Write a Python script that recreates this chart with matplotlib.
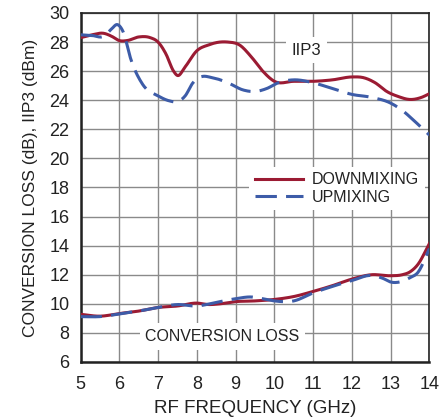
import numpy as np
import matplotlib
matplotlib.use("Agg")
import matplotlib.pyplot as plt

FONT = ['Liberation Sans Narrow', 'Liberation Sans', 'DejaVu Sans']
plt.rcParams['font.family'] = FONT

RED = '#9B1B33'
BLUE = '#3D5CA8'
TXT = '#222222'

# IIP3 downmixing
iip3_dn_f = [5.0, 5.3, 5.6, 5.8, 6.0, 6.2, 6.5, 6.8, 7.0, 7.2, 7.4, 7.5, 7.7, 8.0, 8.3, 8.6, 8.8, 9.1, 9.4, 9.7, 10.0, 10.5, 11.0, 11.5, 12.0, 12.3, 12.6, 12.9, 13.2, 13.5, 13.8, 14.0]
iip3_dn_v = [28.3, 28.5, 28.6, 28.4, 28.1, 28.1, 28.35, 28.3, 28.0, 27.2, 26.0, 25.7, 26.3, 27.4, 27.8, 28.0, 28.0, 27.8, 27.0, 26.0, 25.3, 25.3, 25.3, 25.4, 25.6, 25.55, 25.2, 24.6, 24.25, 24.05, 24.2, 24.45]

# IIP3 upmixing
iip3_up_f = [5.0, 5.3, 5.6, 5.8, 5.95, 6.1, 6.3, 6.6, 7.0, 7.3, 7.5, 7.7, 7.9, 8.1, 8.4, 8.8, 9.2, 9.5, 9.8, 10.1, 10.5, 11.0, 11.5, 12.0, 12.5, 13.0, 13.3, 13.6, 14.0]
iip3_up_v = [28.5, 28.45, 28.4, 28.9, 29.2, 28.7, 26.8, 25.1, 24.3, 23.95, 23.9, 24.3, 25.2, 25.6, 25.55, 25.2, 24.7, 24.6, 24.8, 25.2, 25.4, 25.2, 24.8, 24.4, 24.2, 23.8, 23.3, 22.6, 21.6]

# Conversion loss downmixing
cl_dn_f = [5.0, 5.5, 6.0, 6.5, 7.0, 7.5, 8.0, 8.3, 8.6, 9.0, 9.5, 10.0, 10.5, 11.0, 11.5, 12.0, 12.5, 13.0, 13.3, 13.5, 13.7, 14.0]
cl_dn_v = [9.28, 9.15, 9.33, 9.5, 9.75, 9.85, 10.05, 9.95, 10.0, 10.15, 10.2, 10.3, 10.5, 10.85, 11.25, 11.7, 12.0, 11.93, 12.0, 12.2, 12.7, 14.15]

# Conversion loss upmixing
cl_up_f = [5.0, 5.5, 6.0, 6.5, 7.0, 7.5, 8.0, 8.5, 9.0, 9.4, 9.7, 10.0, 10.5, 11.0, 11.5, 12.0, 12.5, 12.8, 13.0, 13.3, 13.5, 13.7, 14.0]
cl_up_v = [9.12, 9.12, 9.3, 9.5, 9.75, 9.95, 9.85, 10.1, 10.35, 10.47, 10.35, 10.2, 10.2, 10.75, 11.2, 11.6, 11.95, 11.75, 11.5, 11.55, 11.8, 12.15, 13.8]

xticks = [5, 6, 7, 8, 9, 10, 11, 12, 13, 14]
yticks = [6, 8, 10, 12, 14, 16, 18, 20, 22, 24, 26, 28, 30]


def smooth(xs, ys, n=400):
    xs = np.asarray(xs, float)
    ys = np.asarray(ys, float)
    m = np.gradient(ys, xs)
    xx = np.linspace(xs[0], xs[-1], n)
    idx = np.clip(np.searchsorted(xs, xx) - 1, 0, len(xs) - 2)
    h = xs[idx + 1] - xs[idx]
    t = (xx - xs[idx]) / h
    h00 = 2 * t**3 - 3 * t**2 + 1
    h10 = t**3 - 2 * t**2 + t
    h01 = -2 * t**3 + 3 * t**2
    h11 = t**3 - t**2
    yy = h00 * ys[idx] + h10 * h * m[idx] + h01 * ys[idx + 1] + h11 * h * m[idx + 1]
    return xx, yy


fig = plt.figure(figsize=(4.4, 4.18), dpi=100)
ax = fig.add_axes([0.183, 0.134, 0.793, 0.835])

ax.set_xlim(5, 14)
ax.set_ylim(6, 30)
ax.set_xticks(xticks)
ax.set_yticks(yticks)
ax.grid(True, color='#8a8a8a', linewidth=1.0)
ax.set_axisbelow(True)
for s in ax.spines.values():
    s.set_color(TXT)
    s.set_linewidth(1.2)
ax.spines['left'].set_linewidth(1.8)
ax.spines['bottom'].set_linewidth(1.8)
ax.tick_params(length=0, labelsize=13, colors=TXT)
ax.tick_params(axis='x', pad=10)
ax.tick_params(axis='y', pad=8)

x, y = smooth(iip3_dn_f, iip3_dn_v)
ax.plot(x, y, color=RED, lw=2.2, zorder=4)
x, y = smooth(cl_dn_f, cl_dn_v)
ax.plot(x, y, color=RED, lw=2.2, zorder=4)
x, y = smooth(iip3_up_f, iip3_up_v)
ax.plot(x, y, color=BLUE, lw=2.2, dashes=(7, 3), zorder=5)
x, y = smooth(cl_up_f, cl_up_v)
ax.plot(x, y, color=BLUE, lw=2.2, dashes=(7, 3), zorder=5)

ax.text(10.83, 27.45, 'IIP3', fontsize=12, ha='center', va='center', color=TXT,
        bbox=dict(facecolor='white', edgecolor='none', pad=4), zorder=3)
ax.text(8.66, 7.75, 'CONVERSION LOSS', fontsize=11.5, ha='center', va='center', color=TXT,
        bbox=dict(facecolor='white', edgecolor='none', pad=4), zorder=3)

h1, = ax.plot([], [], color=RED, lw=2.2)
h2, = ax.plot([], [], color=BLUE, lw=2.2, dashes=(7, 3))
leg = ax.legend([h1, h2], ['DOWNMIXING', 'UPMIXING'], loc='upper left',
                bbox_to_anchor=(0.483, 0.56), frameon=True, fontsize=11.5,
                handlelength=3.0, handletextpad=0.6, labelspacing=0.15,
                borderpad=0.35, borderaxespad=0)
leg.get_frame().set_edgecolor('none')
leg.get_frame().set_facecolor('white')
leg.get_frame().set_alpha(1)
leg.get_frame().set_boxstyle('square', pad=0)
leg.set_zorder(6)
for t in leg.get_texts():
    t.set_color(TXT)

ax.set_xlabel('RF FREQUENCY (GHz)', fontsize=13.5, color=TXT, labelpad=5)
ax.set_ylabel('CONVERSION LOSS (dB), IIP3 (dBm)', fontsize=12.5, color=TXT, labelpad=8)

fig.savefig('out.png', dpi=100)
